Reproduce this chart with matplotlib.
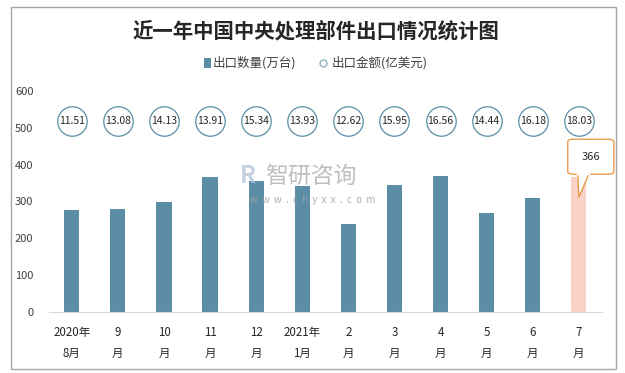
import matplotlib.pyplot as plt
from matplotlib.patches import Rectangle, FancyBboxPatch, Polygon

plt.rcParams['font.family'] = ['Noto Sans CJK SC', 'DejaVu Sans']

months = ['2020年\n8月', '9\n月', '10\n月', '11\n月', '12\n月', '2021年\n1月',
          '2\n月', '3\n月', '4\n月', '5\n月', '6\n月', '7\n月']
qty = [276, 279, 298, 366, 355, 341, 238, 344, 369, 268, 309, 366]
amount = [11.51, 13.08, 14.13, 13.91, 15.34, 13.93, 12.62, 15.95, 16.56, 14.44, 16.18, 18.03]
yticks = [0, 100, 200, 300, 400, 500, 600]

bar_color = '#5b8ea6'
last_color = '#f8d2c7'
circle_y = 518  # row where the amount bubbles sit

fig = plt.figure(figsize=(6.25, 3.73), dpi=100)
ax = fig.add_axes([0.078, 0.164, 0.885, 0.592])

x = list(range(len(qty)))
colors = [bar_color] * (len(qty) - 1) + [last_color]
ax.bar(x, qty, width=0.33, color=colors, zorder=2)

ax.scatter(x, [circle_y] * len(x), s=450, facecolor='white', edgecolor='#5b8ea6',
           linewidth=0.9, zorder=3)
for xi, v in zip(x, amount):
    ax.text(xi, circle_y, f'{v:.2f}', ha='center', va='center', fontsize=7.5,
            color='#262626', zorder=4)

ax.set_xlim(-0.5, len(x) - 0.5)
ax.set_ylim(0, 600)
ax.set_yticks(yticks)
ax.set_xticks(x)
ax.set_xticklabels(months, fontsize=8.3, color='#262626', linespacing=1.8)
ax.tick_params(axis='y', length=0, pad=11, labelsize=8, labelcolor='#404040')
ax.tick_params(axis='x', length=0, pad=10)
for s in ['top', 'right', 'left']:
    ax.spines[s].set_visible(False)
ax.spines['bottom'].set_color('#d9d9d9')

# callout for the last bar
last = len(x) - 1
box = FancyBboxPatch((last - 0.24, 374), 1.0, 95, boxstyle='round,pad=0,rounding_size=0.12',
                     mutation_aspect=60, facecolor='white', edgecolor='#e8923a', linewidth=0.9,
                     zorder=5, clip_on=False)
ax.add_patch(box)
ax.add_patch(Polygon([(last - 0.02, 375), (last + 0.22, 375), (last, qty[last] - 55)],
                     closed=True, facecolor='white', edgecolor='#e8923a', linewidth=0.9,
                     zorder=5))
ax.plot([last - 0.015, last + 0.21], [375, 375], color='white', lw=1.6, zorder=6)
ax.text(last + 0.26, 420, str(qty[last]), ha='center', va='center', fontsize=8,
        color='#262626', zorder=7)

# watermark
fig.text(0.497, 0.527, '智研咨询', fontsize=16.5, color='#a8a8a8', alpha=0.75,
         ha='center', va='center')
fig.text(0.5, 0.463, 'w  w  w  .  c  h  y  x  x  .  c  o  m', fontsize=7, color='#a0a0a0',
         alpha=0.85, ha='center', va='center')
fig.text(0.397, 0.527, 'R', fontsize=17, color='#b8c7dc', alpha=0.8,
         ha='center', va='center', fontweight='bold')

fig.text(0.505, 0.918, '近一年中国中央处理部件出口情况统计图', fontsize=14.7, fontweight='bold',
         ha='center', va='center', color='#262626')

# legend
fig.patches.append(Rectangle((0.3265, 0.818), 0.011, 0.026, transform=fig.transFigure,
                             facecolor=bar_color, edgecolor='none'))
fig.text(0.341, 0.831, '出口数量(万台)', fontsize=9, va='center', color='#404040')
fig.add_artist(plt.Line2D([0.517], [0.831], marker='o', markersize=5, markerfacecolor='white',
                          markeredgecolor='#8fb0c2', transform=fig.transFigure))
fig.text(0.53, 0.831, '出口金额(亿美元)', fontsize=9, va='center', color='#404040')

fig.patches.append(Rectangle((0.017, 0.012), 0.968, 0.968, transform=fig.transFigure,
                             facecolor='none', edgecolor='#a6a6a6', linewidth=1.0))

fig.savefig('out.png', dpi=100)
